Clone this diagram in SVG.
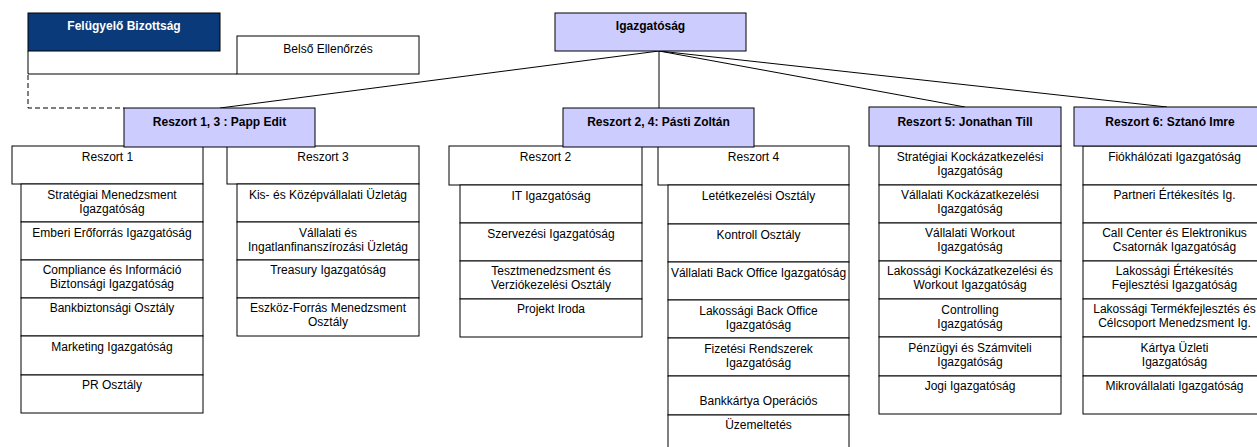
<svg xmlns="http://www.w3.org/2000/svg" width="1257" height="447" viewBox="0 0 1257 447">
<style>
.b{fill:#fff;stroke:#000;stroke-width:1}
.h{fill:#ccccff;stroke:#000;stroke-width:1}
.d{fill:#0a3a7a;stroke:#000;stroke-width:1}
.t{font-family:"Liberation Sans",Arial,sans-serif;font-size:12px;text-anchor:middle;fill:#000}
.tb{font-family:"Liberation Sans",Arial,sans-serif;font-size:12px;font-weight:bold;text-anchor:middle;fill:#000}
.tw{font-family:"Liberation Sans",Arial,sans-serif;font-size:12px;font-weight:bold;text-anchor:middle;fill:#fff}
.c{fill:none;stroke:#000;stroke-width:1}
.dash{fill:none;stroke:#000;stroke-width:1;stroke-dasharray:5,3}
</style>
<defs>
<clipPath id="bkclip"><rect x="668" y="376" width="181" height="39"/></clipPath>
</defs>
<rect width="1257" height="447" fill="#fff"/>
<g id="connectors">
<path class="c" d="M659,51 L220,108"/>
<path class="c" d="M659,51 L659,108"/>
<path class="c" d="M659,51 L965,107"/>
<path class="c" d="M659,51 L1167,107"/>
<path class="dash" d="M28,75 L28,108 L124,108"/>
</g>
<g id="felugyelo">
<path class="c" d="M28,51 L28,74 L237,74"/>
<rect class="d" x="28" y="13" width="192" height="38"/>
<text class="tw" x="124" y="30">Felügyelő Bizottság</text>
</g>
<g id="belso">
<rect class="b" x="237" y="36" width="182" height="38"/>
<text class="t" x="328" y="53">Belső Ellenőrzés</text>
</g>
<g id="igazgatosag">
<rect class="h" x="555" y="13" width="191" height="38"/>
<text class="tb" x="650.5" y="30">Igazgatóság</text>
</g>
<g id="reszort1">
<rect class="b" x="12" y="146" width="191" height="38"/>
<text class="t" x="107.5" y="161">Reszort 1</text>
<rect class="b" x="21" y="184" width="182" height="38"/>
<text class="t" x="112" y="199">Stratégiai Menedzsment</text>
<text class="t" x="112" y="213">Igazgatóság</text>
<rect class="b" x="21" y="222" width="182" height="38"/>
<text class="t" x="112" y="237">Emberi Erőforrás Igazgatóság</text>
<rect class="b" x="21" y="260" width="182" height="38"/>
<text class="t" x="112" y="274">Compliance és Információ</text>
<text class="t" x="112" y="288">Biztonsági Igazgatóság</text>
<rect class="b" x="21" y="298" width="182" height="38"/>
<text class="t" x="112" y="312">Bankbiztonsági Osztály</text>
<rect class="b" x="21" y="336" width="182" height="39"/>
<text class="t" x="112" y="351">Marketing Igazgatóság</text>
<rect class="b" x="21" y="375" width="182" height="38"/>
<text class="t" x="112" y="389">PR Osztály</text>
</g>
<g id="reszort3">
<rect class="b" x="227" y="146" width="192" height="38"/>
<text class="t" x="323" y="161">Reszort 3</text>
<rect class="b" x="237" y="184" width="182" height="38"/>
<text class="t" x="328" y="199">Kis- és Középvállalati Üzletág</text>
<rect class="b" x="237" y="222" width="182" height="38"/>
<text class="t" x="328" y="237">Vállalati és</text>
<text class="t" x="328" y="251">Ingatlanfinanszírozási Üzletág</text>
<rect class="b" x="237" y="260" width="182" height="38"/>
<text class="t" x="328" y="274">Treasury Igazgatóság</text>
<rect class="b" x="237" y="298" width="182" height="38"/>
<text class="t" x="328" y="312">Eszköz-Forrás Menedzsment</text>
<text class="t" x="328" y="326">Osztály</text>
</g>
<g id="reszort13">
<rect class="h" x="124" y="108" width="191" height="39"/>
<text class="tb" x="219.5" y="126">Reszort 1, 3 : Papp Edit</text>
</g>
<g id="reszort2">
<rect class="b" x="449" y="146" width="193" height="39"/>
<text class="t" x="545.5" y="161">Reszort 2</text>
<rect class="b" x="460" y="185" width="182" height="38"/>
<text class="t" x="551" y="200">IT Igazgatóság</text>
<rect class="b" x="460" y="223" width="182" height="38"/>
<text class="t" x="551" y="238">Szervezési Igazgatóság</text>
<rect class="b" x="460" y="261" width="182" height="38"/>
<text class="t" x="551" y="275">Tesztmenedzsment és</text>
<text class="t" x="551" y="289">Verziókezelési Osztály</text>
<rect class="b" x="460" y="299" width="182" height="38"/>
<text class="t" x="551" y="313">Projekt Iroda</text>
</g>
<g id="reszort4">
<rect class="b" x="658" y="146" width="191" height="39"/>
<text class="t" x="753.5" y="161">Reszort 4</text>
<rect class="b" x="668" y="185" width="181" height="39"/>
<text class="t" x="758.5" y="200">Letétkezelési Osztály</text>
<rect class="b" x="668" y="224" width="181" height="38"/>
<text class="t" x="758.5" y="239">Kontroll Osztály</text>
<rect class="b" x="668" y="262" width="181" height="38"/>
<text class="t" x="758.5" y="277">Vállalati Back Office Igazgatóság</text>
<rect class="b" x="668" y="300" width="181" height="38"/>
<text class="t" x="758.5" y="315">Lakossági Back Office</text>
<text class="t" x="758.5" y="329">Igazgatóság</text>
<rect class="b" x="668" y="338" width="181" height="38"/>
<text class="t" x="758.5" y="353">Fizetési Rendszerek</text>
<text class="t" x="758.5" y="367">Igazgatóság</text>
<rect class="b" x="668" y="376" width="181" height="39"/>
<text class="t" x="758.5" y="405">Bankkártya Operációs</text>
<text class="t" x="758.5" y="424" clip-path="url(#bkclip)">Igazgatóság</text>
<rect class="b" x="668" y="415" width="181" height="39"/>
<text class="t" x="758.5" y="429">Üzemeltetés</text>
</g>
<g id="reszort24">
<rect class="h" x="563" y="108" width="191" height="39"/>
<text class="tb" x="658.5" y="126">Reszort 2, 4: Pásti Zoltán</text>
</g>
<g id="reszort5">
<rect class="b" x="879" y="146" width="182" height="39"/>
<text class="t" x="970" y="161">Stratégiai Kockázatkezelési</text>
<text class="t" x="970" y="175">Igazgatóság</text>
<rect class="b" x="879" y="185" width="182" height="38"/>
<text class="t" x="970" y="199">Vállalati Kockázatkezelési</text>
<text class="t" x="970" y="213">Igazgatóság</text>
<rect class="b" x="879" y="223" width="182" height="38"/>
<text class="t" x="970" y="237">Vállalati Workout</text>
<text class="t" x="970" y="251">Igazgatóság</text>
<rect class="b" x="879" y="261" width="182" height="38"/>
<text class="t" x="970" y="275">Lakossági Kockázatkezelési és</text>
<text class="t" x="970" y="289">Workout Igazgatóság</text>
<rect class="b" x="879" y="299" width="182" height="38"/>
<text class="t" x="970" y="314">Controlling</text>
<text class="t" x="970" y="328">Igazgatóság</text>
<rect class="b" x="879" y="337" width="182" height="39"/>
<text class="t" x="970" y="352">Pénzügyi és Számviteli</text>
<text class="t" x="970" y="366">Igazgatóság</text>
<rect class="b" x="879" y="376" width="182" height="38"/>
<text class="t" x="970" y="390">Jogi Igazgatóság</text>
<rect class="h" x="869" y="107" width="192" height="39"/>
<text class="tb" x="965" y="126">Reszort 5: Jonathan Till</text>
</g>
<g id="reszort6">
<rect class="b" x="1083" y="146" width="183" height="39"/>
<text class="t" x="1174.5" y="161">Fiókhálózati Igazgatóság</text>
<rect class="b" x="1083" y="185" width="183" height="38"/>
<text class="t" x="1174.5" y="199">Partneri Értékesítés Ig.</text>
<rect class="b" x="1083" y="223" width="183" height="38"/>
<text class="t" x="1174.5" y="237">Call Center és Elektronikus</text>
<text class="t" x="1174.5" y="251">Csatornák Igazgatóság</text>
<rect class="b" x="1083" y="261" width="183" height="38"/>
<text class="t" x="1174.5" y="275">Lakossági Értékesítés</text>
<text class="t" x="1174.5" y="289">Fejlesztési Igazgatóság</text>
<rect class="b" x="1083" y="299" width="183" height="38"/>
<text class="t" x="1174.5" y="313">Lakossági Termékfejlesztés és</text>
<text class="t" x="1174.5" y="327">Célcsoport Menedzsment Ig.</text>
<rect class="b" x="1083" y="337" width="183" height="39"/>
<text class="t" x="1174.5" y="352">Kártya Üzleti</text>
<text class="t" x="1174.5" y="366">Igazgatóság</text>
<rect class="b" x="1083" y="376" width="183" height="38"/>
<text class="t" x="1174.5" y="390">Mikrovállalati Igazgatóság</text>
<rect class="h" x="1074" y="107" width="192" height="39"/>
<text class="tb" x="1170" y="126">Reszort 6: Sztanó Imre</text>
</g>
</svg>
